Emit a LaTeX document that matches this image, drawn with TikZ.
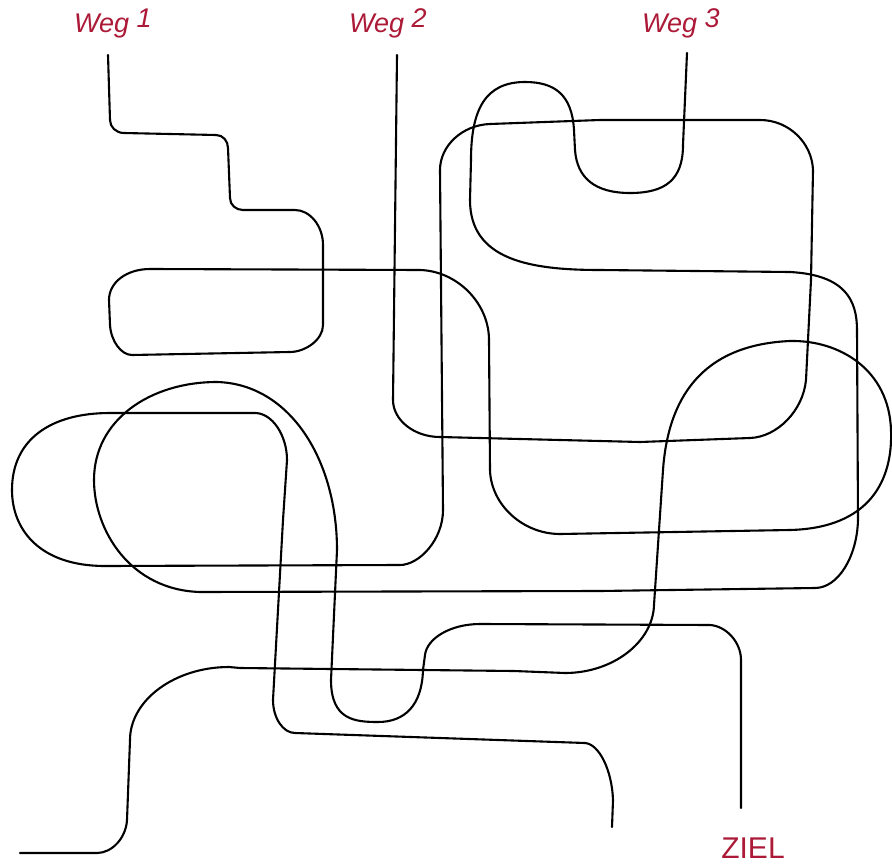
\documentclass[tikz,border=0pt]{standalone}
\usepackage{fontspec}
\setmainfont{Liberation Sans}
\definecolor{zielred}{RGB}{172,26,56}
\tikzset{
  weg/.style={draw=black, line width=2.1pt, line cap=round, line join=round},
  wlabel/.style={text=zielred, font=\itshape\fontsize{27}{27}\selectfont, anchor=base west, inner sep=0pt},
  zlabel/.style={text=zielred, font=\fontsize{30}{30}\selectfont, anchor=base, inner sep=0pt}
}
\begin{document}
\begin{tikzpicture}[x=1pt,y=-1pt]
\useasboundingbox (0,0) rectangle (892,864);
% labels
\node[wlabel] (w1) at (74,33) {Weg \raisebox{5pt}{1}};
\node[wlabel] (w2) at (349,33) {Weg \raisebox{5pt}{2}};
\node[wlabel] (w3) at (642,33) {Weg \raisebox{5pt}{3}};
\node[zlabel] (ziel) at (753,858) {ZIEL};
% start/end points
\coordinate (s1) at (108,55);
\coordinate (s2) at (397,55);
\coordinate (s3) at (687,53);
\coordinate (e1) at (20,853);
\coordinate (e2) at (612,827);
\coordinate (e3) at (741,808);
% Weg 1
\draw[weg] (s1) -- (110,120) .. controls (110,127) and (116,133) .. (124,133) -- (216,135)
  .. controls (223,135) and (228,141) .. (228,148) -- (230,198)
  .. controls (230,205) and (236,210) .. (243,210)
  -- (295,210) .. controls (310,210) and (323,226) .. (323,245) -- (323,325)
  .. controls (323,340) and (305,352) .. (290,352) -- (132,355)
  .. controls (121,355) and (111,341) .. (110,325)
  -- (109,300) .. controls (109,282) and (127,269) .. (150,269) -- (420,270)
  .. controls (457,271) and (489,303) .. (489,340) -- (490,470)
  .. controls (491,505) and (523,534) .. (560,534)
  -- (790,530) .. controls (870,528) and (893,480) .. (891,430)
  .. controls (889,370) and (840,340) .. (790,341)
  .. controls (700,345) and (668,400) .. (663,470) -- (654,605)
  .. controls (653,642) and (613,673) .. (565,673) -- (514,671) -- (240,668) -- (229,667)
  .. controls (175,667) and (130,700) .. (130,740) -- (127,820)
  .. controls (126,838) and (112,853) .. (97,853) -- (e1);
% Weg 2
\draw[weg] (s2) -- (393,400) .. controls (393,420) and (414,437) .. (440,437) -- (640,442) -- (750,438)
  .. controls (777,437) and (803,411) .. (806,380) -- (811,280) -- (813,170)
  .. controls (812,143) and (789,120) .. (760,120) -- (600,120) -- (490,124)
  .. controls (462,125) and (440,146) .. (440,170) -- (443,510)
  .. controls (443,540) and (419,565) .. (400,565)
  -- (105,566) .. controls (40,566) and (12,530) .. (12,490)
  .. controls (12,440) and (50,413) .. (110,413) -- (255,413)
  .. controls (272,413) and (287,435) .. (287,460) -- (283,520) -- (273,700)
  .. controls (273,718) and (283,733) .. (295,733) -- (585,743)
  .. controls (599,744) and (612,770) .. (613,800) -- (e2);
% Weg 3
\draw[weg] (s3) -- (683,145) .. controls (683,180) and (665,193) .. (630,193)
  .. controls (595,193) and (577,178) .. (575,150) -- (574,130)
  .. controls (572,95) and (555,82) .. (525,82) .. controls (485,82) and (471,110) .. (471,160)
  -- (470,200) .. controls (470,260) and (530,270) .. (600,270) -- (790,272)
  .. controls (845,275) and (857,300) .. (857,330) -- (858,520)
  .. controls (857,557) and (838,588) .. (815,588) -- (600,591) -- (200,592)
  .. controls (130,590) and (94,530) .. (94,480) .. controls (94,420) and (150,382) .. (217,382)
  .. controls (290,384) and (337,460) .. (337,550) -- (331,680)
  .. controls (331,720) and (355,722) .. (378,722) .. controls (405,722) and (422,705) .. (423,670)
  -- (425,655) .. controls (427,638) and (451,624) .. (480,624) -- (710,625)
  .. controls (726,626) and (741,642) .. (741,660) -- (e3);
\end{tikzpicture}
\end{document}
